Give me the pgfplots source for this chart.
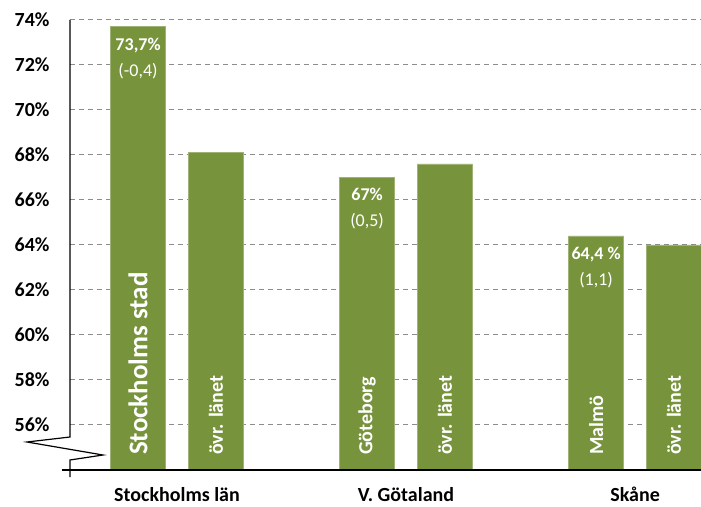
\documentclass[border=0pt]{standalone}
\usepackage{pgfplots}
\pgfplotsset{compat=1.18}
\usepackage{fontspec}
\setmainfont{Carlito}
\definecolor{bargreen}{HTML}{77933C}
\definecolor{gridgray}{HTML}{8C8C8C}
\begin{document}
\begin{tikzpicture}
\begin{axis}[
  scale only axis,
  width=631pt, height=450pt,
  xmin=-0.4672, xmax=2.288,
  ymin=54, ymax=74,
  ytick={56,58,...,74},
  yticklabel={\pgfmathprintnumber{\tick}\%},
  /pgf/number format/assume math mode=true,
  yticklabel style={font=\fontsize{20}{24}\selectfont\bfseries, xshift=-17pt},
  xtick={0,1,2},
  xticklabels={Stockholms län, V. Götaland, Skåne},
  xticklabel style={font=\fontsize{20}{24}\selectfont\bfseries, anchor=base, inner sep=0pt, yshift=-31pt},
  axis line style={draw=none},
  tick style={draw=none},
  ymajorgrids,
  major grid style={gridgray, line width=1pt, dash pattern=on 5pt off 4pt},
  clip mode=individual,
]
\addplot[ybar, bar width=55pt, bar shift=0pt, fill=bargreen, draw=bargreen!70!white, line width=0.6pt]
  coordinates {(-0.17,73.7) (0.83,67.0) (1.83,64.4)};
\addplot[ybar, bar width=55pt, bar shift=0pt, fill=bargreen, draw=bargreen!70!white, line width=0.6pt]
  coordinates {(0.17,68.1) (1.17,67.6) (2.17,64.0)};
% axes with break
\draw[black, line width=1.5pt] ([xshift=-8pt]rel axis cs:0,0) -- (rel axis cs:1,0);
\draw[black, line width=1.2pt] (rel axis cs:0,1) -- ([yshift=33pt]rel axis cs:0,0)
  -- ([xshift=-43pt,yshift=28pt]rel axis cs:0,0)
  -- ([xshift=33pt,yshift=15pt]rel axis cs:0,0)
  -- ([yshift=10pt]rel axis cs:0,0) -- ([yshift=-7pt]rel axis cs:0,0);
% value labels
\tikzset{vl/.style={white, anchor=north, align=center, font=\fontsize{18}{26}\selectfont, yshift=-7.5pt}}
\node[vl] at (axis cs:-0.17,73.7) {\textbf{73,7\%}\\(-0,4)};
\node[vl] at (axis cs:0.83,67.0) {\textbf{67\%}\\(0,5)};
\node[vl] at (axis cs:1.83,64.4) {\textbf{64,4 \%}\\(1,1)};
% rotated labels
\tikzset{rl/.style={white, rotate=90, anchor=west, inner sep=0pt, font=\fontsize{20}{24}\selectfont\bfseries}}
\node[rl, font=\fontsize{27}{31}\selectfont\bfseries] at (axis cs:-0.17,54.667) {Stockholms stad};
\node[rl] at (axis cs:0.17,54.667) {övr. länet};
\node[rl] at (axis cs:0.83,54.667) {Göteborg};
\node[rl] at (axis cs:1.17,54.667) {övr. länet};
\node[rl] at (axis cs:1.83,54.667) {Malmö};
\node[rl] at (axis cs:2.17,54.667) {övr. länet};
\coordinate (O) at (rel axis cs:0,0);
\end{axis}
\pgfresetboundingbox
\path ([shift={(-70pt,-36pt)}]O) rectangle ([shift={(631pt,470pt)}]O);
\end{tikzpicture}
\end{document}
